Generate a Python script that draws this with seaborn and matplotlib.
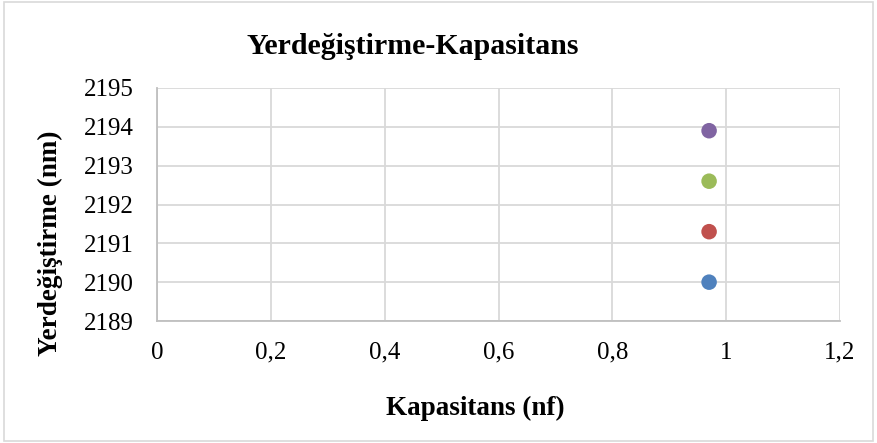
import matplotlib
matplotlib.use("Agg")
import matplotlib.pyplot as plt
import seaborn as sns
import pandas as pd
from matplotlib.ticker import FuncFormatter, MultipleLocator

series = ["S1", "S2", "S3", "S4"]
kapasitans = [0.97, 0.97, 0.97, 0.97]
yerdegistirme = [2190.0, 2191.3, 2192.6, 2193.9]
colors = ["#4F81BD", "#C0504D", "#9BBB59", "#8064A2"]

df = pd.DataFrame({"x": kapasitans, "y": yerdegistirme, "s": series})

sns.set_theme(style="white")
plt.rcParams["font.family"] = ["Liberation Serif", "DejaVu Serif"]
plt.rcParams["text.color"] = "black"

W, H = 877, 443
fig = plt.figure(figsize=(W / 100, H / 100), dpi=100)
ax = fig.add_axes([157 / W, 1 - 321 / H, (840 - 157) / W, (321 - 88) / H])

sns.scatterplot(data=df, x="x", y="y", hue="s", palette=colors, s=125,
                edgecolor="none", legend=False, ax=ax, zorder=3)

ax.set_xlim(0, 1.2)
ax.set_ylim(2189, 2195)
ax.xaxis.set_major_locator(MultipleLocator(0.2))
ax.yaxis.set_major_locator(MultipleLocator(1))
ax.xaxis.set_major_formatter(FuncFormatter(lambda v, p: ("%g" % round(v, 1)).replace(".", ",")))
ax.yaxis.set_major_formatter(FuncFormatter(lambda v, p: "%d" % round(v)))
ax.grid(True, color="#D9D9D9", linewidth=1.3)
ax.set_axisbelow(True)
for side in ["top", "right"]:
    ax.spines[side].set_visible(False)
for side in ["left", "bottom"]:
    ax.spines[side].set_color("#BFBFBF")
    ax.spines[side].set_linewidth(1.3)
ax.tick_params(axis="both", length=0, labelsize=18, colors="black", labelcolor="black")
ax.tick_params(axis="x", pad=15)
ax.tick_params(axis="y", pad=17)
ax.set_xlabel("")
ax.set_ylabel("")

fig.text(475 / W, 1 - 408 / H, "Kapasitans (nf)", fontsize=19.5, fontweight="bold",
         ha="center", va="center", color="black")
fig.text(50 / W, 1 - 243 / H, "Yerdeğiştirme (nm)", fontsize=19.5, fontweight="bold",
         ha="center", va="center", rotation=90, color="black")
fig.text(413 / W, 1 - 47 / H, "Yerdeğiştirme-Kapasitans", fontsize=21.5, fontweight="bold",
         ha="center", va="center", color="black")

fig.patches.append(plt.Rectangle((0.004, 0.004), 0.992, 0.992, transform=fig.transFigure,
                                 fill=False, edgecolor="#D9D9D9", linewidth=1.2))

fig.savefig("out.png", dpi=100)
